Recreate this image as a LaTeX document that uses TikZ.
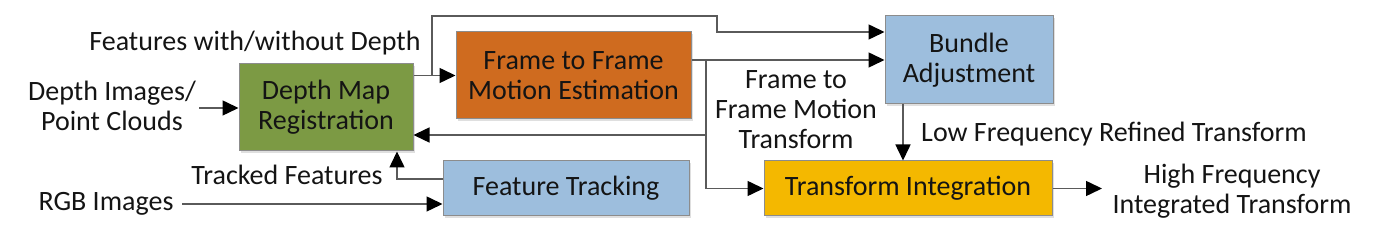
\documentclass[tikz,border=0pt]{standalone}
\usepackage{fontspec}
\setmainfont{Carlito}
\usepackage{tikz}
\usetikzlibrary{arrows.meta,calc,shadows}
\definecolor{olive}{HTML}{7C9A44}
\definecolor{rust}{HTML}{CF6B1F}
\definecolor{sky}{HTML}{9DBEDD}
\definecolor{gold}{HTML}{F4B800}
\definecolor{wire}{HTML}{5A5A5A}
\definecolor{ink}{HTML}{141414}
\tikzset{
  blk/.style={draw=black!45,line width=0.5pt,align=center,text=ink,inner sep=2pt,
    drop shadow={opacity=0.25,shadow xshift=1.2pt,shadow yshift=-1.2pt}},
  lbl/.style={align=center,text=ink,inner sep=1pt},
  arr/.style={-{Triangle[length=8pt,width=7.5pt,color=black]},line width=0.75pt,draw=wire}
}

\begin{document}
\begin{tikzpicture}[x=0.5pt,y=-0.5pt,font=\fontsize{14}{15}\selectfont]
    \useasboundingbox (0,0) rectangle (1375,228);
    % blocks
    \node[blk,fill=olive,minimum width=87pt,minimum height=43.5pt] (dmr) at (326,107.5) {Depth Map\\Registration};
    \node[blk,fill=rust,minimum width=117.5pt,minimum height=43.5pt] (ffme) at (573.5,75.5) {Frame to Frame\\Motion Estimation};
    \node[blk,fill=sky,minimum width=84pt,minimum height=44pt] (ba) at (969,60) {Bundle\\Adjustment};
    \node[blk,fill=sky,minimum width=123pt,minimum height=27.5pt] (ft) at (566,188.5) {Feature Tracking};
    \node[blk,fill=gold,minimum width=144pt,minimum height=27.5pt] (ti) at (908,188.5) {Transform Integration};
    % labels
    \node[lbl] (lfeat) at (255,43) {Features with/without Depth};
    \node[lbl] (ldepth) at (112,106) {Depth Images/\\Point Clouds};
    \node[lbl] (ltrack) at (287,175) {Tracked Features};
    \node[lbl] (lrgb) at (106,204) {RGB Images};
    \node[lbl] (lffmt) at (796,110) {Frame to\\Frame Motion\\Transform};
    \node[lbl] (llow) at (1114,134) {Low Frequency Refined Transform};
    \node[lbl] (lhigh) at (1232,191) {High Frequency\\Integrated Transform};
    % joints
    \coordinate (din) at (199,108);
    \coordinate (rgb) at (182,204);
    \coordinate (jA) at (432,75.5);
    \coordinate (jB) at (717,16);
    \coordinate (jC) at (706,60);
    \coordinate (jD) at (706,135);
    \coordinate (jE) at (903,104);
    \coordinate (hout) at (1102,188.5);
    % connectors
    \draw[arr] (din) -- (din -| dmr.west);
    \draw[arr] (rgb) -- (rgb -| ft.west);
    \draw[arr] (dmr.east |- ffme.west) -- (ffme.west);
    \draw[arr] (jA) |- (jB) |- ($(ba.west)+(0,-28)$);
    \draw[arr] (ffme.east |- ba.west) -- (ba.west);
    \draw[arr] (jC) |- (ti.west);
    \draw[arr] (jD) -- (jD -| dmr.east);
    \draw[arr] ($(ft.west)+(0,-9.5)$) -| ($(dmr.south)+(71,0)$);
    \draw[arr] (jE) -- (jE |- ti.north);
    \draw[arr] (ti.east) -- (hout);
  \end{tikzpicture}
\end{document}
